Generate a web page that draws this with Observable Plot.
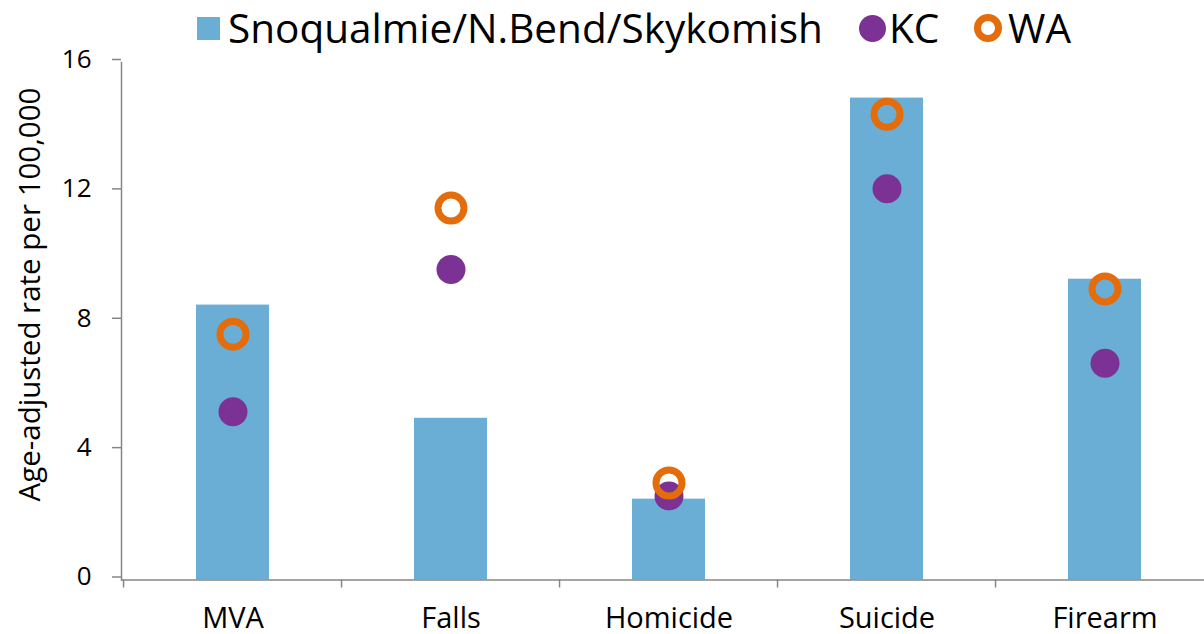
<!DOCTYPE html>
<html>
<head>
<meta charset="utf-8">
<script src="https://cdn.jsdelivr.net/npm/d3@7"></script>
<script src="https://cdn.jsdelivr.net/npm/@observablehq/plot@0.6"></script>
<style>
  html, body { margin: 0; padding: 0; background: #fff; }
  body { width: 1204px; height: 634px; overflow: hidden; font-family: "Open Sans", sans-serif; }
  #legend { position: relative; height: 50px; width: 1204px; }
  .lg { position: absolute; top: 0; height: 56px; display: flex; align-items: center; }
  .lg span { font-size: 40.5px; color: #000; line-height: 1; white-space: nowrap; }
  .sw-sq { width: 23px; height: 23px; background: #6aaed6; }
  .sw-dot { width: 27px; height: 27px; border-radius: 50%; background: #7b3294; }
  .sw-ring { width: 14px; height: 14px; border-radius: 50%; border: 7px solid #e46c0a; }
  #chart svg { display: block; }
</style>
</head>
<body>
<div id="legend"></div>
<div id="chart"></div>
<script>
const categories = ["MVA", "Falls", "Homicide", "Suicide", "Firearm"];
const localRates = [8.5, 5.0, 2.5, 14.9, 9.3];
const kcRates = [5.2, 9.6, 2.6, 12.1, 6.7];
const waRates = [7.6, 11.5, 3.0, 14.4, 9.0];
const yTicks = [0, 4, 8, 12, 16];
const seriesNames = ["Snoqualmie/N.Bend/Skykomish", "KC", "WA"];

const colors = { local: "#6aaed6", kc: "#7b3294", wa: "#e46c0a" };

const data = categories.map((c, i) => ({
  cat: c, local: localRates[i], kc: kcRates[i], wa: waRates[i]
}));

// Legend (HTML, above the SVG)
const legend = document.getElementById("legend");
const items = [
  { cls: "sw-sq", label: seriesNames[0], left: 197, gap: 8 },
  { cls: "sw-dot", label: seriesNames[1], left: 859, gap: 3 },
  { cls: "sw-ring", label: seriesNames[2], left: 974, gap: 6 }
];
items.forEach(it => {
  const g = document.createElement("div");
  g.className = "lg";
  g.style.left = it.left + "px";
  const sw = document.createElement("div");
  sw.className = it.cls;
  const t = document.createElement("span");
  t.textContent = it.label;
  t.style.marginLeft = it.gap + "px";
  g.appendChild(sw);
  g.appendChild(t);
  legend.appendChild(g);
});

const W = 1204, H = 584;
const xLeft = 121, xRight = 1215.5;
const step = (xRight - xLeft) / categories.length;

const chart = Plot.plot({
  width: W,
  height: H,
  marginLeft: xLeft,
  marginRight: 0,
  marginTop: 12,
  marginBottom: 54.5,
  style: { fontFamily: "Open Sans, sans-serif", fontSize: "27px", color: "#000", background: "#fff", overflow: "visible" },
  x: { domain: categories, range: [xLeft, xRight], paddingInner: 2 / 3, paddingOuter: 1 / 3, align: 0.5 },
  y: { domain: [0, 16] },
  marks: [
    Plot.barY(data, { x: "cat", y: "local", fill: colors.local }),
    Plot.dot(data, { x: "cat", y: "kc", r: 14.5, fill: colors.kc, stroke: null }),
    Plot.dot(data, { x: "cat", y: "wa", r: 13, fill: "none", stroke: colors.wa, strokeWidth: 7 }),
    Plot.ruleY([0], { stroke: "#868686", strokeWidth: 1.5 }),
    Plot.frame({ anchor: "left", stroke: "#868686", strokeWidth: 1.5 }),
    Plot.axisY({ ticks: yTicks, tickSize: 9, tickPadding: 21, stroke: "#868686", strokeWidth: 1.5, label: null, fill: "#000", fontSize: 26, dy: -3 }),
    Plot.axisX({ tickSize: 8, text: null, dx: -step / 2, stroke: "#868686", strokeWidth: 1.5, label: null }),
    Plot.axisX({ tickSize: 0, tickPadding: 27, label: null, fill: "#000", fontSize: 29 }),
    Plot.text(["Age-adjusted rate per 100,000"], {
      frameAnchor: "left", textAnchor: "middle", rotate: -90, dx: -91, dy: -26.75,
      fontSize: 29.5, fill: "#000"
    })
  ]
});
document.getElementById("chart").appendChild(chart);
</script>
</body>
</html>
